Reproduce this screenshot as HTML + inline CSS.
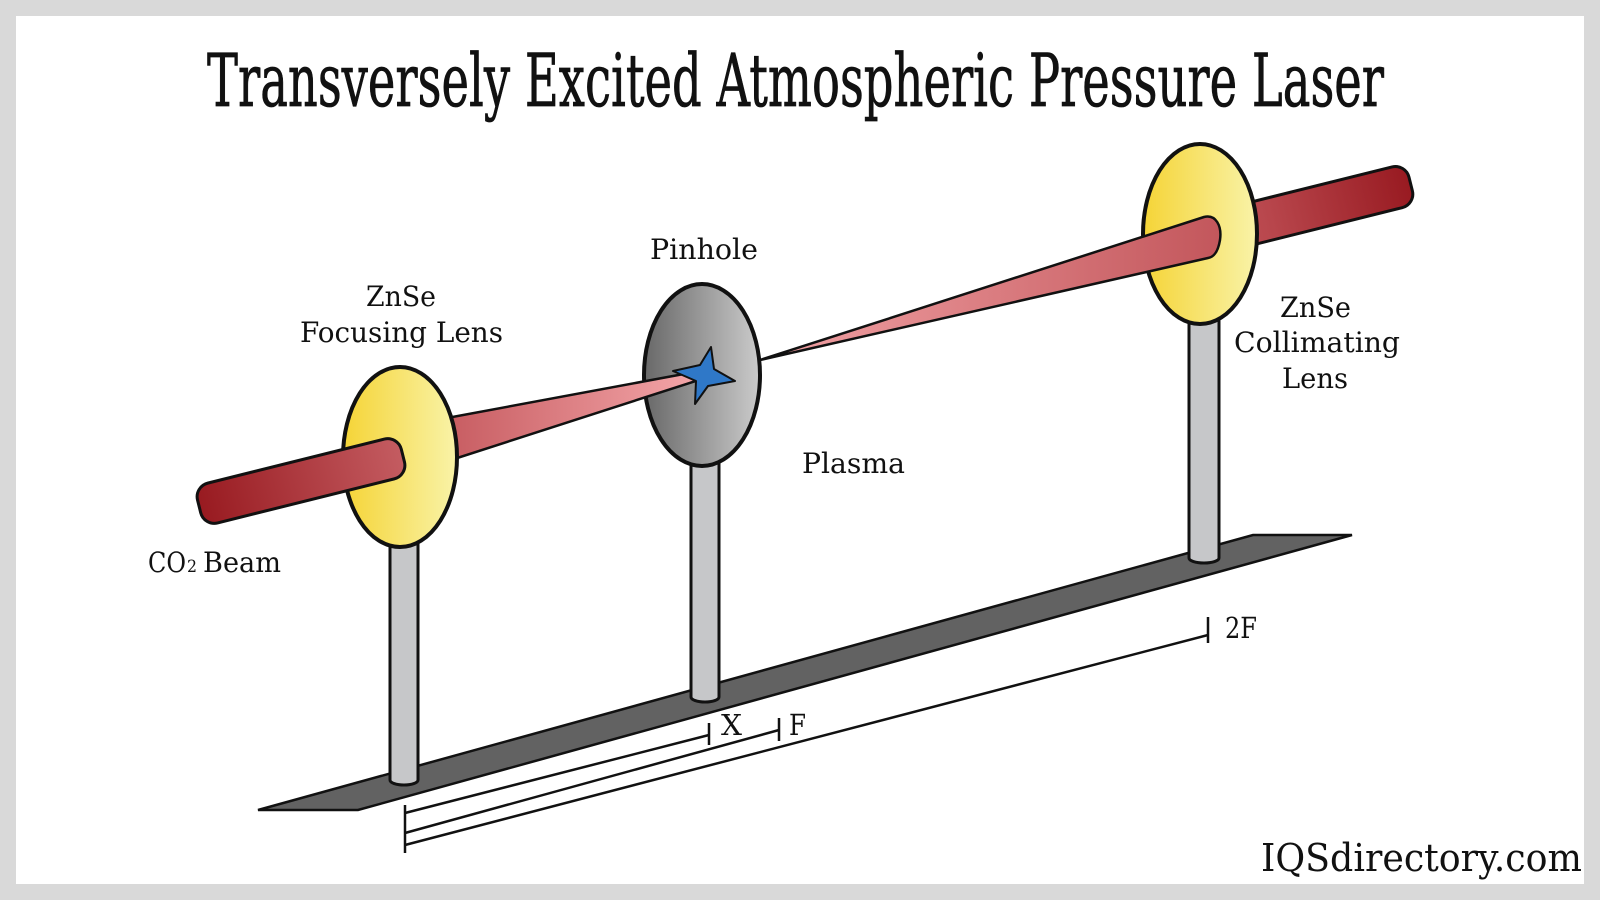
<!DOCTYPE html>
<html>
<head>
<meta charset="utf-8">
<style>
html,body{margin:0;padding:0;background:#d9d9d9;}
svg{display:block;}
text{font-family:"DejaVu Serif","Liberation Serif",serif;fill:#111;}
</style>
</head>
<body>
<svg width="1600" height="900" viewBox="0 0 1600 900" xmlns="http://www.w3.org/2000/svg">
<defs>
<linearGradient id="lensG" x1="0" y1="0" x2="1" y2="0">
<stop offset="0" stop-color="#f5d436"/>
<stop offset="1" stop-color="#f9f3a8"/>
</linearGradient>
<linearGradient id="pinG" x1="0" y1="0" x2="1" y2="0">
<stop offset="0" stop-color="#686868"/>
<stop offset="1" stop-color="#cbcbcb"/>
</linearGradient>
<linearGradient id="beamL" x1="0" y1="0" x2="1" y2="0">
<stop offset="0" stop-color="#981a20"/>
<stop offset="1" stop-color="#c45c61"/>
</linearGradient>
<linearGradient id="beamR" x1="0" y1="0" x2="1" y2="0">
<stop offset="0" stop-color="#c4585e"/>
<stop offset="0.35" stop-color="#b8464c"/>
<stop offset="1" stop-color="#981a21"/>
</linearGradient>
<linearGradient id="coneL" gradientUnits="userSpaceOnUse" x1="440" y1="0" x2="700" y2="0">
<stop offset="0" stop-color="#c65a5f"/>
<stop offset="1" stop-color="#f4a7aa"/>
</linearGradient>
<linearGradient id="coneR" gradientUnits="userSpaceOnUse" x1="762" y1="0" x2="1218" y2="0">
<stop offset="0" stop-color="#f2a3a6"/>
<stop offset="1" stop-color="#c3575c"/>
</linearGradient>
</defs>

<rect x="0" y="0" width="1600" height="900" fill="#d9d9d9"/>
<rect x="16" y="16" width="1568" height="868" fill="#ffffff"/>

<!-- Title -->
<text x="207" y="106" font-size="73" textLength="1177" lengthAdjust="spacingAndGlyphs" stroke="#111" stroke-width="0.8">Transversely Excited Atmospheric Pressure Laser</text>

<!-- Rail -->
<polygon points="258,810 358,810 1352,535 1253,535" fill="#626262" stroke="#111" stroke-width="2.5" stroke-linejoin="miter"/>

<!-- Posts -->
<path d="M390,530 V780 A14 5 0 0 0 418,780 V530" fill="#c6c7c9" stroke="#111" stroke-width="3"/>
<path d="M691,450 V697 A14 5 0 0 0 719,697 V450" fill="#c6c7c9" stroke="#111" stroke-width="3"/>
<path d="M1189,310 V558 A15 5 0 0 0 1219,558 V310" fill="#c6c7c9" stroke="#111" stroke-width="3"/>

<!-- Right outer beam -->
<rect x="-110" y="-21" width="222" height="42" rx="14" ry="14" transform="translate(1302,211) rotate(-14)" fill="url(#beamR)" stroke="#111" stroke-width="3"/>

<!-- Right lens -->
<ellipse cx="1200" cy="234" rx="57" ry="90" fill="url(#lensG)" stroke="#111" stroke-width="4"/>

<!-- Diverging cone -->
<path d="M760,360 L1204,217 C1216,214 1222,226 1220,240 C1218,252 1214,257 1208,258 Z" fill="url(#coneR)" stroke="#111" stroke-width="2.5" stroke-linejoin="round"/>

<!-- Pinhole -->
<ellipse cx="702" cy="375" rx="58" ry="91" fill="url(#pinG)" stroke="#111" stroke-width="4"/>

<!-- Converging cone -->
<path d="M420,423 L700,371 L702,379 L420,470 Z" fill="url(#coneL)" stroke="#111" stroke-width="2.5" stroke-linejoin="round"/>

<!-- Star (plasma) -->
<polygon points="711,347 714,369 735,381 708,386 695,404 696,381 673,371 700,365" fill="#2f78c8" stroke="#111" stroke-width="2" stroke-linejoin="round"/>

<!-- Left lens -->
<ellipse cx="400" cy="457" rx="57" ry="90" fill="url(#lensG)" stroke="#111" stroke-width="4"/>

<!-- Left thick beam -->
<rect x="-105" y="-20.5" width="210" height="41" rx="14" ry="14" transform="translate(301,481) rotate(-14)" fill="url(#beamL)" stroke="#111" stroke-width="3"/>

<!-- Dimension lines -->
<g stroke="#111" stroke-width="2.5" fill="none" stroke-linecap="butt">
<line x1="405" y1="805" x2="405" y2="853"/>
<line x1="405" y1="813" x2="709" y2="735"/>
<line x1="709" y1="723" x2="709" y2="745"/>
<line x1="405" y1="833" x2="779" y2="730"/>
<line x1="779" y1="718" x2="779" y2="741"/>
<line x1="405" y1="845" x2="1208" y2="635"/>
<line x1="1208" y1="617" x2="1208" y2="643"/>
</g>

<!-- Labels -->
<text x="366" y="306" font-size="28" textLength="70" lengthAdjust="spacingAndGlyphs">ZnSe</text>
<text x="300" y="342" font-size="28" textLength="203" lengthAdjust="spacingAndGlyphs">Focusing Lens</text>
<text x="650" y="259" font-size="28" textLength="108" lengthAdjust="spacingAndGlyphs">Pinhole</text>
<text x="802" y="473" font-size="28" textLength="103" lengthAdjust="spacingAndGlyphs">Plasma</text>
<text x="1280" y="317" font-size="28" textLength="71" lengthAdjust="spacingAndGlyphs">ZnSe</text>
<text x="1234" y="352" font-size="28" textLength="166" lengthAdjust="spacingAndGlyphs">Collimating</text>
<text x="1282" y="388" font-size="28" textLength="66" lengthAdjust="spacingAndGlyphs">Lens</text>
<text x="148" y="572" font-size="28" textLength="38" lengthAdjust="spacingAndGlyphs">CO</text>
<text x="187" y="572" font-size="17" textLength="10" lengthAdjust="spacingAndGlyphs">2</text>
<text x="203" y="572" font-size="28" textLength="78" lengthAdjust="spacingAndGlyphs">Beam</text>
<text x="721" y="735" font-size="29" textLength="21" lengthAdjust="spacingAndGlyphs">X</text>
<text x="789" y="735" font-size="29" textLength="17" lengthAdjust="spacingAndGlyphs">F</text>
<text x="1225" y="638" font-size="29" textLength="32" lengthAdjust="spacingAndGlyphs">2F</text>

<!-- Watermark -->
<text x="1261" y="871" font-size="38" textLength="321" lengthAdjust="spacingAndGlyphs">IQSdirectory.com</text>
</svg>
</body>
</html>
